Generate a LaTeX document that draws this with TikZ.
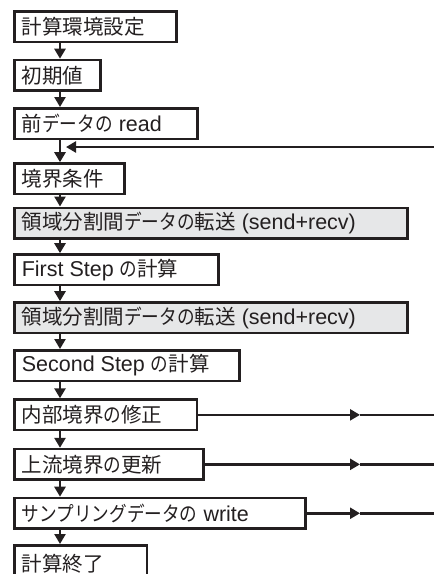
\documentclass[tikz,border=0pt]{standalone}
\usepackage{fontspec}
\setmainfont{Liberation Sans}
\newfontfamily\jp{Noto Sans CJK JP}
\usetikzlibrary{arrows.meta}
\definecolor{ink}{HTML}{231F20}
\definecolor{shade}{HTML}{E6E7E8}
\newcommand\bt[2]{\makebox[#1pt][l]{#2}}
\newcommand\J[1]{{\jp\fontsize{20.5}{26}\selectfont #1}}
\newcommand\K[1]{\scalebox{0.86}[1]{\J{#1}}}
\tikzset{
  flowbox/.style={draw=ink, line width=2.6pt, rectangle, anchor=north west,
    inner xsep=7.5pt, inner ysep=0pt, minimum height=30.5pt,
    font=\fontsize{21.5}{26}\selectfont, text=ink},
  grey/.style={fill=shade},
  arr/.style={draw=ink, line width=2.6pt, -{Triangle[length=10pt,width=11pt]}},
  plain/.style={draw=ink, line width=2.6pt},
}
\begin{document}
\begin{tikzpicture}[x=1pt,y=-1pt]
\useasboundingbox (0,0) rectangle (434,574);
\node[flowbox] (b1) at (13,10.3) {\bt{147}{\J{計算環境設定}}};
\node[flowbox] (b2) at (13,58.7) {\bt{71}{\J{初期値}}};
\node[flowbox] (b3) at (13,107) {\bt{168}{\J{前}\K{データの} read}};
\node[flowbox] (b4) at (13,162.2) {\bt{95.3}{\J{境界条件}}};
\node[flowbox,grey] (b5) at (13,206.5) {\bt{378.3}{\J{領域分割間}\K{データの}\J{転送} (send+recv)}};
\node[flowbox] (b6) at (13,253.2) {\bt{189.3}{First Step \K{の}\J{計算}}};
\node[flowbox,grey] (b7) at (13,301.2) {\bt{378.3}{\J{領域分割間}\K{データの}\J{転送} (send+recv)}};
\node[flowbox] (b8) at (13,349) {\bt{210.3}{Second Step \K{の}\J{計算}}};
\node[flowbox] (b9) at (13,398.3) {\bt{167.7}{\J{内部境界}\K{の}\J{修正}}};
\node[flowbox] (b10) at (13,447.8) {\bt{174.3}{\J{上流境界}\K{の}\J{更新}}};
\node[flowbox] (b11) at (13,496.7) {\bt{276}{\K{サンプリングデータの} write}};
\node[flowbox, minimum height=36pt] (b12) at (13,544) {\bt{117.7}{\J{計算終了}}};
\coordinate (ax) at (60,0);
\foreach \a/\b in {b1/b2,b2/b3,b3/b4,b4/b5,b5/b6,b6/b7,b7/b8,b8/b9,b9/b10,b10/b11,b11/b12}{
  \draw[arr] (\a.south -| ax) -- (\b.north -| ax);
}
\coordinate (fb) at (436,147);
\coordinate (fbtip) at (66,147);
\draw[arr] (fb) -- (fbtip);
\coordinate (am) at (360,0);
\coordinate (re) at (436,0);
\foreach \a in {b9,b10,b11}{
  \draw[arr] (\a.east) -- (\a.east -| am);
  \draw[plain] (\a.east -| am) -- (\a.east -| re);
}
\end{tikzpicture}
\end{document}
